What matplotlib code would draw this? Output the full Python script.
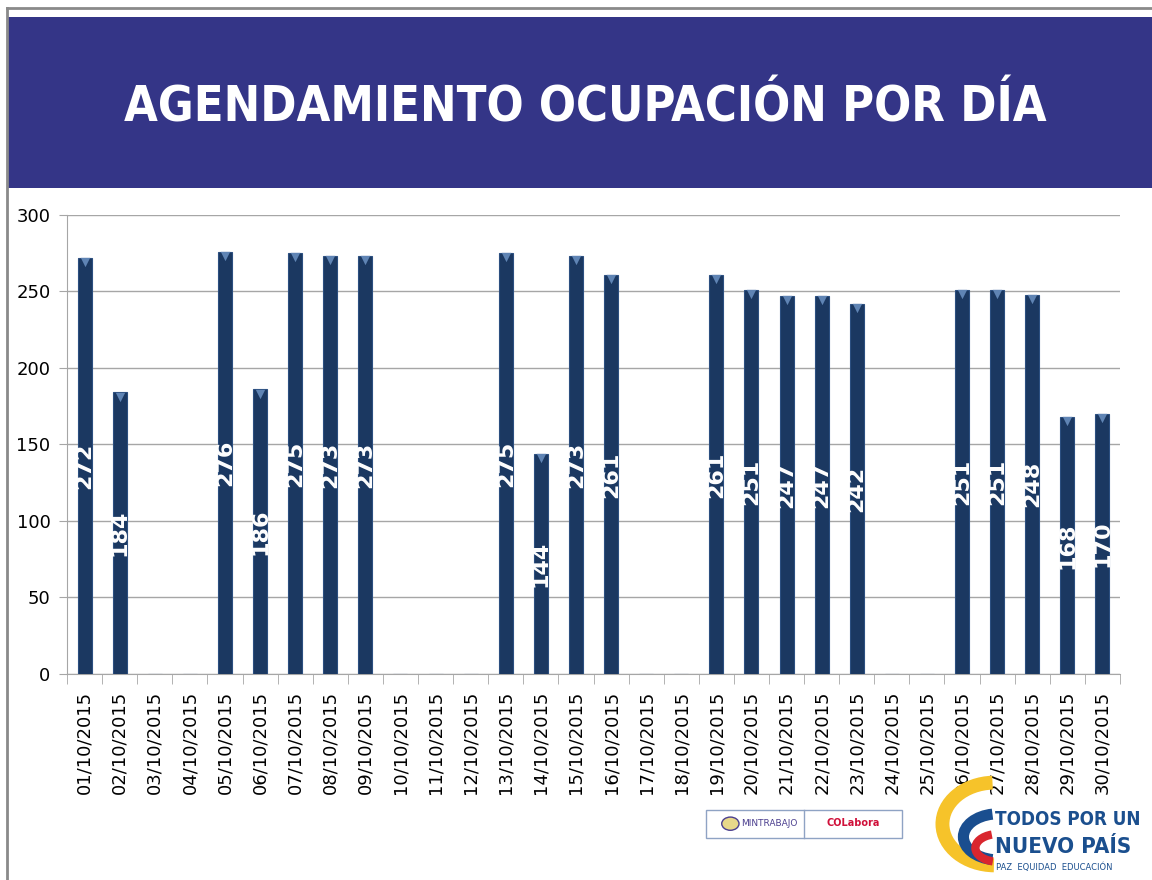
import numpy as np
import matplotlib.pyplot as plt
from matplotlib.patches import Rectangle, Arc, Circle
from matplotlib.lines import Line2D
import matplotlib.transforms as mtransforms

# datos: ocupación por día (octubre 2015), None = sin agendamiento
dias = ['%02d/10/2015' % d for d in range(1, 31)]
ocupacion = [272, 184, None, None, 276, 186, 275, 273, 273, None,
             None, None, 275, 144, 273, 261, None, None, 261, 251,
             247, 247, 242, None, None, 251, 251, 248, 168, 170]
titulo = 'AGENDAMIENTO OCUPACIÓN POR DÍA'

fig = plt.figure(figsize=(11.52, 8.8), dpi=100)
fig.patch.set_facecolor('white')

# marco gris y banda del título
fig.add_artist(Line2D([0.006, 1.0], [0.991, 0.991], color='#8a8a8a', lw=2))
fig.add_artist(Line2D([0.0065, 0.0065], [0.0, 0.991], color='#8a8a8a', lw=2))
fig.add_artist(Rectangle((0.0065, 0.786), 0.9935, 0.195, transform=fig.transFigure,
                         facecolor='#343587', edgecolor='none'))
fig.text(0.508, 0.878, titulo, color='white', fontsize=35, fontweight='bold',
         fontstretch='condensed', ha='center', va='center')

ax = fig.add_axes([0.0582, 0.2341, 0.914, 0.5216])
x = np.arange(len(dias))
vals = np.array([np.nan if v is None else v for v in ocupacion], dtype=float)

ax.bar(x, np.nan_to_num(vals), width=0.4, color='#1b3861', edgecolor='#2c4f80',
       linewidth=0.8, zorder=3)
# pequeño bisel claro arriba de cada barra
tr = mtransforms.offset_copy(ax.transData, fig=fig, x=0, y=-3, units='points')
mask = ~np.isnan(vals)
ax.scatter(x[mask], vals[mask], marker='v', s=45, color='#5f84b4', transform=tr,
           zorder=4, linewidths=0)

for xi, v in zip(x[mask], vals[mask]):
    ax.text(xi, v / 2, '%d' % v, rotation=90, ha='center', va='center',
            color='white', fontsize=16, fontweight='bold', zorder=5)

ax.set_xlim(-0.5, len(dias) - 0.5)
ax.set_ylim(0, 300)
ax.set_yticks(range(0, 301, 50))
ax.yaxis.grid(True, color='#a6a6a6', lw=1)
ax.set_axisbelow(True)
ax.set_xticks(x)
ax.set_xticklabels(dias, rotation=90, fontsize=13)
ax.set_xticks(np.arange(-0.5, len(dias), 1), minor=True)
ax.tick_params(axis='x', which='major', length=0, pad=12)
ax.tick_params(axis='x', which='minor', length=7, color='#a6a6a6')
ax.tick_params(axis='y', length=6, color='#a6a6a6', labelsize=13, pad=6)
for s in ['top', 'right']:
    ax.spines[s].set_visible(False)
ax.spines['left'].set_color('#a6a6a6')
ax.spines['bottom'].set_color('#a6a6a6')

# logos (aproximados)
fig.add_artist(Rectangle((0.613, 0.048), 0.17, 0.032, transform=fig.transFigure,
                         facecolor='white', edgecolor='#8fa3c4', lw=1))
fig.add_artist(Line2D([0.698, 0.698], [0.048, 0.080], color='#8fa3c4', lw=1))
fig.add_artist(Circle((0.634, 0.064), 0.0075, transform=fig.transFigure,
                      facecolor='#e8d88a', edgecolor='#4b3f8f', lw=1))
fig.text(0.668, 0.064, 'MINTRABAJO', color='#4b3f8f', fontsize=6.5, ha='center', va='center')
fig.text(0.741, 0.065, 'COLabora', color='#d0103a', fontsize=7, fontweight='bold',
         ha='center', va='center')

lax = fig.add_axes([0.8116, 0.0114, 0.052, 0.1045])
lax.set_xlim(0, 1)
lax.set_ylim(0, 1)
lax.axis('off')
lax.add_patch(Arc((1.0, 0.50), 1.75, 0.90, theta1=95, theta2=268, lw=10,
                  color='#f6c32a', clip_on=False))
lax.add_patch(Arc((1.05, 0.36), 1.15, 0.50, theta1=110, theta2=250, lw=8,
                  color='#1a4e8f', clip_on=False))
lax.add_patch(Arc((1.05, 0.24), 0.75, 0.30, theta1=125, theta2=240, lw=6,
                  color='#d9262e', clip_on=False))

fig.text(0.864, 0.069, 'TODOS POR UN', color='#1b4f8e', fontsize=13.5,
         fontweight='bold', fontstretch='condensed', ha='left', va='center')
fig.text(0.864, 0.037, 'NUEVO PAÍS', color='#1b4f8e', fontsize=16,
         fontweight='bold', fontstretch='condensed', ha='left', va='center')
fig.text(0.865, 0.015, 'PAZ  EQUIDAD  EDUCACIÓN', color='#1b4f8e', fontsize=6,
         ha='left', va='center')

plt.savefig('out.png', dpi=100)
